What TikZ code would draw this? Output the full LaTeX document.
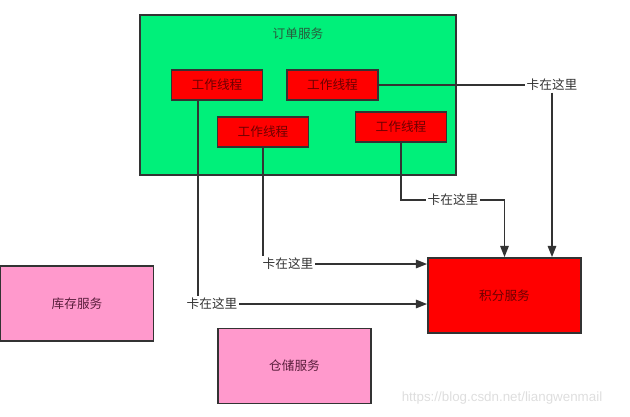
\documentclass[tikz,border=0pt]{standalone}
\usepackage{fontspec}
\setmainfont{Noto Sans CJK SC}
\newfontfamily\urlfont{Liberation Sans}
\usetikzlibrary{arrows.meta, positioning, calc}
\definecolor{ordergreen}{RGB}{0, 240, 122}
\definecolor{svcpink}{RGB}{255, 153, 204}
\definecolor{threadred}{RGB}{255, 0, 0}
\definecolor{edgegray}{RGB}{51, 51, 51}
\definecolor{marktext}{RGB}{222, 222, 222}

\begin{document}
\begin{tikzpicture}[
  x=0.025cm, y=-0.025cm,
  font=\fontsize{9}{11}\selectfont,
  box/.style={rectangle, draw=edgegray, line width=1.2pt, inner sep=0pt},
  svc/.style={box, fill=svcpink, text={rgb,255:red,90;green,30;blue,60},
              minimum width=3.825cm, minimum height=1.875cm},
  worker/.style={box, fill=threadred, text={rgb,255:red,110;green,0;blue,0},
                 minimum width=2.275cm, minimum height=0.75cm},
  stuck/.style={fill=white, inner sep=1pt, text=edgegray},
  link/.style={line width=1.2pt, draw=edgegray},
  arr/.style={link, -{Triangle[length=8pt, width=6pt]}}
]
  \useasboundingbox (0,0) rectangle (630,416);
  \node[box, fill=ordergreen, minimum width=7.9cm, minimum height=4cm] (order) at (298,95) {};
  \node[below=0.33cm of order.north, inner sep=0pt, text={rgb,255:red,40;green,90;blue,60}] (ordertitle) {订单服务};
  \node[worker] (w1) at (217,85) {工作线程};
  \node[worker] (w2) at (332.5,85) {工作线程};
  \node[worker] (w3) at (263,132) {工作线程};
  \node[worker] (w4) at (401,127) {工作线程};
  \node[svc, fill=threadred, text={rgb,255:red,110;green,0;blue,0}] (points) at (504.5,295.5) {积分服务};
  \node[svc] (stock) at (77,303.5) {库存服务};
  \node[svc] (storage) at (294.5,366) {仓储服务};
  \node[stuck] (lbl1) at (552,85) {卡在这里};
  \node[stuck] (lbl2) at (453,200) {卡在这里};
  \node[stuck] (lbl3) at (288,264) {卡在这里};
  \node[stuck] (lbl4) at (212,304) {卡在这里};
  \node[text=marktext, font=\urlfont\fontsize{9.5}{11}\selectfont] (mark) at (502,398) {https://blog.csdn.net/liangwenmail};
  \coordinate (w1drop) at ($(w1.south)+(-19,0)$);
  \draw[link] (w2.east) -- (w2.east -| lbl1.west);
  \draw[arr] (lbl1) -- (lbl1 |- points.north);
  \draw[link] (w4) |- (lbl2);
  \draw[arr] (lbl2.east) -| (points.north);
  \draw[link] (w3) -- (w3 |- lbl3.north);
  \draw[arr] (lbl3) -- (lbl3 -| points.west);
  \draw[link] (w1drop) -- (w1drop |- lbl4.north);
  \draw[arr] (lbl4) -- (lbl4 -| points.west);
\end{tikzpicture}
\end{document}
